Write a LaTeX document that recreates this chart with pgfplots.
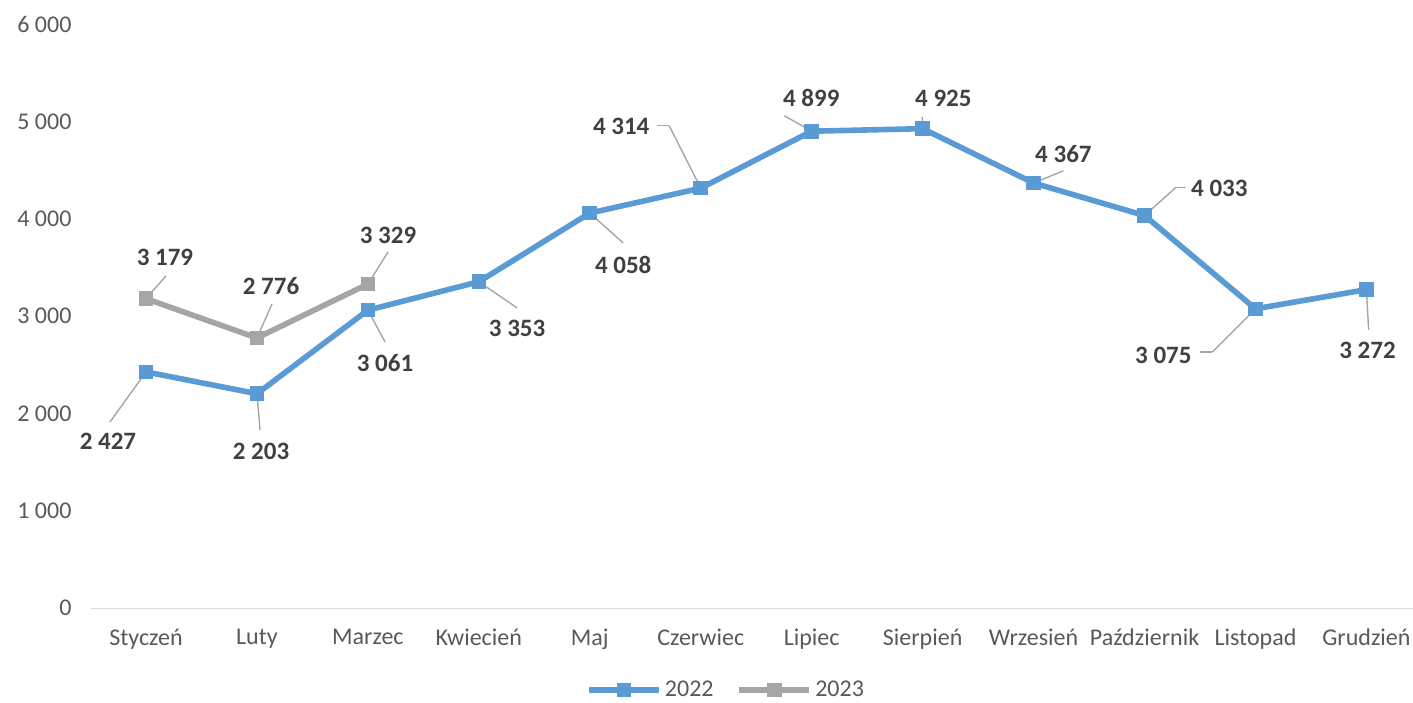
\documentclass[border=0pt]{standalone}
\usepackage{pgfplots}
\pgfplotsset{compat=1.18}
\usepackage{pgfplotstable}
\usepackage{fontspec}
\setmainfont{Carlito}
\definecolor{s22}{HTML}{5B9BD5}
\definecolor{s23}{HTML}{A5A5A5}
\definecolor{txt}{HTML}{595959}
\definecolor{lbl}{HTML}{404040}
\definecolor{axl}{HTML}{D9D9D9}
\definecolor{lead}{HTML}{A6A6A6}

% x y  label position (lx,ly)  leader end (ex,ey)  elbow length hx
\pgfplotstableread{
x y lx ly ex ey hx
0 2427 -0.343 1717 -0.325 1912 0
1 2203 1.037 1614 1.028 1830 0
2 3061 2.155 2519 2.155 2734 0
3 3353 3.345 2878 3.345 3084 0
4 4058 4.301 3526 4.301 3752 0
5 4314 4.283 4945 4.716 4955 -0.108
6 4899 5.996 5243 5.753 5058 0
7 4925 7.187 5233 6.997 5047 0
8 4367 8.269 4667 8.269 4492 0
9 4033 9.675 4307 9.279 4318 0.099
10 3075 9.170 2601 9.612 2632 -0.108
11 3272 11.01 2652 11.02 2858 0
}\dataA
\pgfplotstableread{
x y lx ly ex ey hx
0 3179 0.171 3608 0.180 3413 0
1 2776 1.127 3310 1.136 3125 0
2 3329 2.182 3834 2.182 3660 0
}\dataB

\begin{document}
\begin{tikzpicture}
\begin{axis}[
    name=ax,
    scale only axis,
    width=661pt, height=292pt,
    xmin=-0.5, xmax=11.42,
    ymin=0, ymax=6000,
    ytick={0,1000,...,6000},
    xtick={0,...,11},
    xticklabels={Styczeń,Luty,Marzec,Kwiecień,Maj,Czerwiec,Lipiec,Sierpień,Wrzesień,Październik,Listopad,Grudzień},
    axis x line*=bottom,
    axis y line*=left,
    x axis line style={draw=axl, line width=0.6pt, -},
    y axis line style={draw=none},
    major tick length=0pt,
    tick label style={font=\fontsize{12}{14}\selectfont, text=txt},
    xticklabel style={yshift=-7pt},
    yticklabel style={xshift=-6pt},
    /pgf/number format/assume math mode=true,
    /pgf/number format/1000 sep={\ },
    clip=false,
    legend style={at={(0.481,-0.14)}, anchor=center, draw=none,
        legend columns=-1, font=\fontsize{12}{14}\selectfont, text=txt,
        nodes={inner xsep=1.5pt},
        /tikz/every even column/.append style={column sep=10pt}},
    legend image code/.code={%
        \draw[mark repeat=2,mark phase=2,#1] plot coordinates {(0pt,0pt) (17.5pt,0pt) (35pt,0pt)};},
    nodes near coords style={font=\fontsize{12.5}{14}\bfseries, text=lbl, anchor=center},
]
\addplot[s22, line width=2.8pt, mark=square*, mark size=3.4pt,
    mark options={solid, fill=s22, draw=s22, line width=0pt}]
    table[x=x, y=y] {\dataA};
\addlegendentry{2022}
\addplot[s23, line width=2.8pt, mark=square*, mark size=3.4pt,
    mark options={solid, fill=s23, draw=s23, line width=0pt}]
    table[x=x, y=y] {\dataB};
\addlegendentry{2023}
% leader lines
\addplot[lead, line width=0.7pt, forget plot,
    quiver={u=\thisrow{ex}-\thisrow{x}, v=\thisrow{ey}-\thisrow{y}}]
    table[x=x, y=y] {\dataA};
\addplot[lead, line width=0.7pt, forget plot,
    quiver={u=\thisrow{hx}, v=0}]
    table[x=ex, y=ey] {\dataA};
\addplot[lead, line width=0.7pt, forget plot,
    quiver={u=\thisrow{ex}-\thisrow{x}, v=\thisrow{ey}-\thisrow{y}}]
    table[x=x, y=y] {\dataB};
% data labels
\addplot[draw=none, mark=none, forget plot, nodes near coords, point meta=\thisrow{y}]
    table[x=lx, y=ly] {\dataA};
\addplot[draw=none, mark=none, forget plot, nodes near coords, point meta=\thisrow{y}]
    table[x=lx, y=ly] {\dataB};
\end{axis}
\pgfresetboundingbox
\path[use as bounding box] ([shift={(-45.25pt,-47pt)}]ax.south west) rectangle ([shift={(0pt,12pt)}]ax.north east);
\end{tikzpicture}
\end{document}
